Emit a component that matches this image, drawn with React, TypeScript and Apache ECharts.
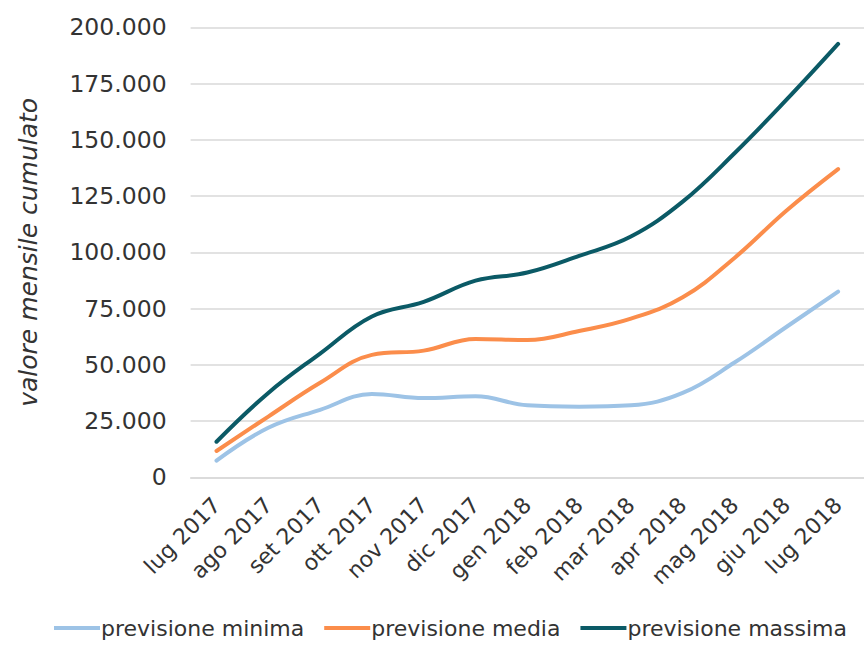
import React, { useEffect, useRef } from "react";
import * as echarts from "echarts";

const categories = [
  "lug 2017", "ago 2017", "set 2017", "ott 2017", "nov 2017", "dic 2017",
  "gen 2018", "feb 2018", "mar 2018", "apr 2018", "mag 2018", "giu 2018", "lug 2018",
];
const previsioneMinima = [7400, 22000, 30000, 37000, 35200, 36000, 32000, 31400, 32000, 37500, 51000, 66800, 82500];
const previsioneMedia = [11700, 27000, 42000, 54400, 56300, 61500, 61000, 65000, 70500, 80000, 97500, 118500, 137000];
const previsioneMassima = [15800, 37500, 55000, 71500, 78000, 87400, 91000, 98400, 107000, 122500, 144000, 167700, 192600];
const seriesNames = ["previsione minima", "previsione media", "previsione massima"];
const colors = ["#9dc3e6", "#fb8d4b", "#0b5a66"];

const FONT = "DejaVu Sans";
const TEXT = "#333333";

function fmt(v: number): string {
  return String(Math.round(v)).replace(/\B(?=(\d{3})+(?!\d))/g, ".");
}

export default function App() {
  const ref = useRef<HTMLDivElement>(null);
  useEffect(() => {
    if (!ref.current) return;
    const chart = echarts.init(ref.current, undefined, { renderer: "svg" });
    const data = [previsioneMinima, previsioneMedia, previsioneMassima];
    chart.setOption({
      animation: false,
      backgroundColor: "#ffffff",
      grid: { left: 190.6, right: -12.4, top: 27.3, bottom: 168.7, containLabel: false },
      legend: {
        left: 54,
        top: 617,
        padding: 0,
        icon: "rect",
        itemWidth: 46,
        itemHeight: 4,
        itemGap: 20,
        textStyle: { fontFamily: FONT, fontSize: 22, color: TEXT, padding: [0, 0, 0, -4] },
        data: seriesNames,
      },
      xAxis: {
        type: "category",
        data: categories,
        boundaryGap: true,
        axisLine: { show: true, lineStyle: { color: "#d9d9d9", width: 1.5 } },
        axisTick: { show: false },
        axisLabel: {
          rotate: 45,
          interval: 0,
          margin: 24,
          fontFamily: FONT,
          fontSize: 22,
          color: TEXT,
        },
      },
      yAxis: {
        type: "value",
        min: 0,
        max: 200000,
        interval: 25000,
        name: "valore mensile cumulato",
        nameLocation: "middle",
        nameRotate: 90,
        nameGap: 150,
        nameTextStyle: { fontFamily: FONT, fontSize: 25, fontStyle: "italic", color: TEXT },
        axisLine: { show: false },
        axisTick: { show: false },
        splitLine: { lineStyle: { color: "#d9d9d9", width: 1.5 } },
        axisLabel: {
          margin: 24,
          fontFamily: FONT,
          fontSize: 23.5,
          color: TEXT,
          formatter: (v: number) => fmt(v),
        },
      },
      series: data.map((d, i) => ({
        name: seriesNames[i],
        type: "line",
        data: d,
        smooth: 0.4,
        symbol: "none",
        lineStyle: { color: colors[i], width: 4, cap: "round" },
        itemStyle: { color: colors[i] },
      })),
    });
    return () => chart.dispose();
  }, []);
  return <div ref={ref} style={{ width: 864, height: 646, position: "absolute", left: 0, top: 0 }} />;
}
